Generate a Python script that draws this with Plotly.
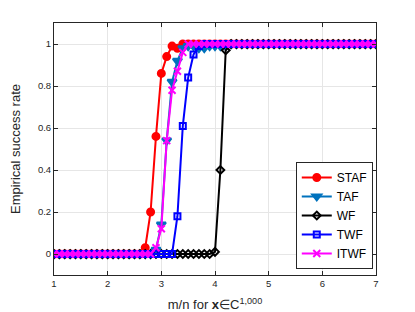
import plotly.graph_objects as go

m_over_n = [round(1 + 0.1 * i, 1) for i in range(61)]

staf = [0.0] * 17 + [0.03, 0.20, 0.56, 0.86, 0.94, 0.99, 0.98] + [1.0] * 37
taf = [0.0] * 19 + [0.02, 0.14, 0.54, 0.82, 0.92, 0.98, 0.99, 0.99, 0.98, 0.98, 0.99, 0.99, 0.99, 0.99] + [1.0] * 28
wf = [0.0] * 30 + [0.01, 0.40, 0.97] + [1.0] * 28
twf = [0.0] * 23 + [0.18, 0.61, 0.84, 0.95, 0.99] + [1.0] * 33
itwf = [0.0] * 19 + [0.03, 0.12, 0.54, 0.78, 0.87, 0.96] + [1.0] * 36

series = [
    ("STAF", staf, "#FF0000", "circle", 7),
    ("TAF", taf, "#0072BD", "triangle-down", 8),
    ("WF", wf, "#000000", "diamond-open", 6),
    ("TWF", twf, "#0000FF", "square-open", 6),
    ("ITWF", itwf, "#FF00FF", "x-thin-open", 7),
]

fig = go.Figure()
for name, ys, color, sym, sz in series:
    fig.add_trace(go.Scatter(
        x=m_over_n, y=ys, name=name, mode="lines+markers",
        line=dict(color=color, width=2),
        marker=dict(symbol=sym, size=sz, color=color,
                    line=dict(color=color, width=2)),
    ))

font_family = "Liberation Sans, Arial, sans-serif"
# page body has an 8px margin, so the figure is offset by (8, 8)
fig.update_layout(
    width=407, height=304,
    margin=dict(l=46, r=39, t=15, b=37),
    paper_bgcolor="white", plot_bgcolor="white",
    font=dict(family=font_family, color="#262626"),
    showlegend=True,
    legend=dict(
        x=0.99, xanchor="right", y=0.024, yanchor="bottom",
        bgcolor="white", bordercolor="#262626", borderwidth=1,
        font=dict(size=12, color="#000000"),
        tracegroupgap=0, itemwidth=30,
    ),
)
fig.update_xaxes(
    range=[1, 7], tickvals=[1, 2, 3, 4, 5, 6, 7],
    showgrid=True, gridcolor="#E6E6E6", gridwidth=1,
    showline=True, linecolor="#262626", linewidth=1, mirror="ticks",
    ticks="inside", ticklen=4, tickcolor="#262626",
    tickfont=dict(size=9.5), zeroline=False, automargin=False,
    title=dict(text="m/n for <b>x</b>∈C<sup>1,000</sup>", font=dict(size=13)),
)
fig.update_yaxes(
    range=[-0.1, 1.1], tickvals=[0, 0.2, 0.4, 0.6, 0.8, 1],
    ticktext=["0", "0.2", "0.4", "0.6", "0.8", "1"],
    showgrid=True, gridcolor="#E6E6E6", gridwidth=1,
    showline=True, linecolor="#262626", linewidth=1, mirror="ticks",
    ticks="inside", ticklen=4, tickcolor="#262626",
    tickfont=dict(size=9.5), zeroline=False, automargin=False,
    title=dict(text="Empirical success rate", font=dict(size=13)),
)

fig.write_html("out.html")
